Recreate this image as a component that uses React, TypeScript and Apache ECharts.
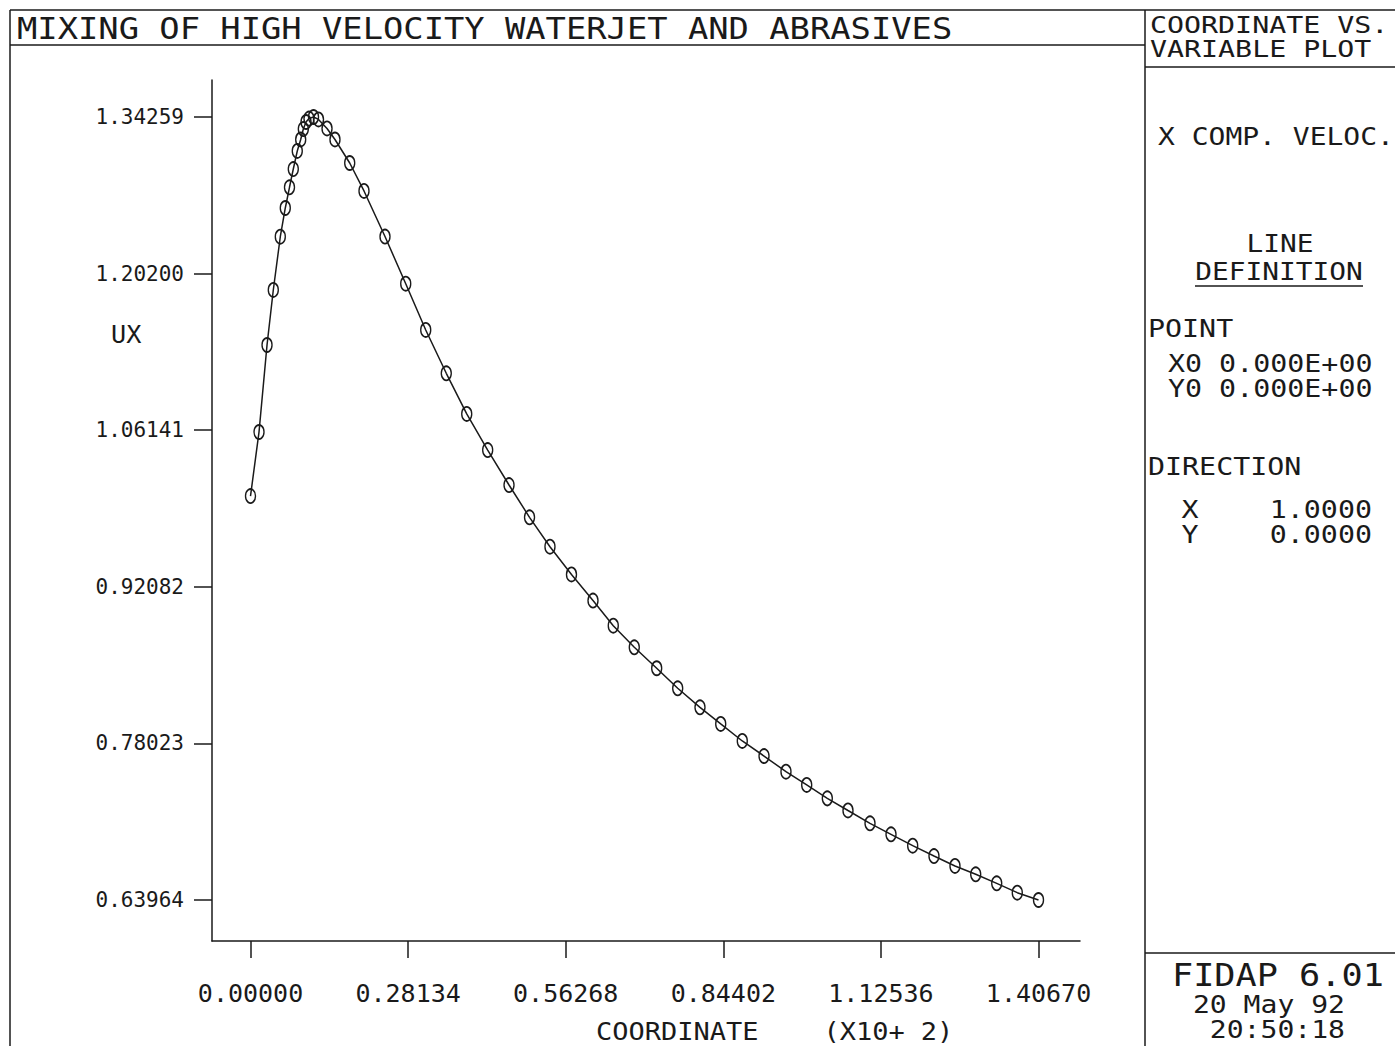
import React, { useEffect, useRef } from "react";
import * as echarts from "echarts";

// Coordinate values (x10^2) along the line
const xCoord = [
  0.0, 0.0152, 0.0295, 0.0407, 0.0532, 0.0621, 0.0696, 0.0764, 0.0835, 0.0896,
  0.0943, 0.0991, 0.1044, 0.1125, 0.1214, 0.1366, 0.1508, 0.1771, 0.2026, 0.2401,
  0.2771, 0.3128, 0.3495, 0.386, 0.4234, 0.4615, 0.4981, 0.5346, 0.573, 0.6114,
  0.6476, 0.6851, 0.7251, 0.7626, 0.8024, 0.8394, 0.8779, 0.9167, 0.9559, 0.9929,
  1.0297, 1.0666, 1.1059, 1.1434, 1.1821, 1.2201, 1.2576, 1.2946, 1.3321, 1.3688,
  1.4067,
];

// X component of velocity (UX)
const uxValues = [
  1.0023, 1.0598, 1.1379, 1.1873, 1.2351, 1.2609, 1.2795, 1.2959, 1.3121, 1.3224,
  1.3318, 1.3381, 1.3412, 1.34259, 1.3404, 1.3323, 1.3224, 1.3013, 1.2762, 1.2353,
  1.1929, 1.1514, 1.1125, 1.076, 1.0436, 1.0122, 0.9832, 0.9568, 0.9319, 0.9085,
  0.8859, 0.8665, 0.8477, 0.8297, 0.8126, 0.7977, 0.7824, 0.7689, 0.7548, 0.7429,
  0.7309, 0.72, 0.7085, 0.6986, 0.6884, 0.6791, 0.6702, 0.6627, 0.6546, 0.6462,
  0.63964,
];

const xTicks = [0.0, 0.28134, 0.56268, 0.84402, 1.12536, 1.4067];
const yTicks = [0.63964, 0.78023, 0.92082, 1.06141, 1.202, 1.34259];

const titleText = "MIXING OF HIGH VELOCITY WATERJET AND ABRASIVES";
const xAxisTitle = "COORDINATE    (X10+ 2)";
const yAxisTitle = "UX";

const FONT = "'DejaVu Sans Mono', 'Liberation Mono', monospace";
const INK = "#1a1a1a";

function txt(
  text: string,
  x: number,
  y: number,
  size: number,
  sx = 1,
  align = "left"
) {
  return {
    type: "text",
    silent: true,
    x,
    y,
    scaleX: sx,
    style: {
      text,
      x: 0,
      y: 0,
      fontSize: size,
      fontFamily: FONT,
      fill: INK,
      textAlign: align,
      textVerticalAlign: "middle",
    },
  };
}

function ln(x1: number, y1: number, x2: number, y2: number, w = 1.5) {
  return {
    type: "line",
    silent: true,
    shape: { x1, y1, x2, y2 },
    style: { stroke: INK, lineWidth: w },
  };
}

export default function App() {
  const ref = useRef<HTMLDivElement>(null);

  useEffect(() => {
    if (!ref.current) return;
    const chart = echarts.init(ref.current, undefined, { renderer: "svg" });
    const data = xCoord.map((x, i) => [x, uxValues[i]]);

    chart.setOption({
      animation: false,
      backgroundColor: "#ffffff",
      grid: { left: 212, right: 315, top: 80, bottom: 105, containLabel: false },
      xAxis: {
        type: "value",
        min: -0.06873,
        max: 1.48077,
        axisLine: { show: true, onZero: false, lineStyle: { color: INK, width: 1.5 } },
        axisTick: {
          show: true,
          inside: false,
          length: 17,
          customValues: xTicks,
          lineStyle: { color: INK, width: 1.5 },
        },
        axisLabel: {
          show: true,
          customValues: xTicks,
          margin: 40,
          fontSize: 25,
          fontFamily: FONT,
          color: INK,
          formatter: (v: number) => v.toFixed(5),
        },
        splitLine: { show: false },
      },
      yAxis: {
        type: "value",
        min: 0.60283,
        max: 1.37581,
        axisLine: { show: true, onZero: false, lineStyle: { color: INK, width: 1.5 } },
        axisTick: {
          show: true,
          inside: false,
          length: 18,
          customValues: yTicks,
          lineStyle: { color: INK, width: 1.5 },
        },
        axisLabel: {
          show: true,
          customValues: yTicks,
          margin: 28,
          fontSize: 21,
          fontFamily: FONT,
          color: INK,
          formatter: (v: number) => v.toFixed(5),
        },
        splitLine: { show: false },
      },
      series: [
        {
          type: "line",
          data,
          smooth: false,
          showAllSymbol: true,
          symbol: "circle",
          symbolSize: [10, 14],
          clip: false,
          lineStyle: { color: INK, width: 1.5 },
          itemStyle: { color: "rgba(255,255,255,0)", borderColor: INK, borderWidth: 1.6 },
          emphasis: { disabled: true },
        },
      ],
      graphic: [
        // frame
        ln(10, 10, 1395, 10),
        ln(10, 10, 10, 1046),
        ln(10, 45, 1145, 45),
        ln(1145, 10, 1145, 1046),
        ln(1145, 67, 1395, 67),
        ln(1145, 953, 1395, 953),
        ln(1195, 286, 1363, 286, 1.3),
        // title
        txt(titleText, 17, 28, 31, 1.09),
        // axis titles
        txt(yAxisTitle, 111, 335, 24, 1.05),
        txt(xAxisTitle, 596, 1031, 25, 1.08),
        // right panel
        txt("COORDINATE VS.", 1150, 25, 23, 1.23),
        txt("VARIABLE PLOT", 1150, 49, 23, 1.23),
        txt("X COMP. VELOC.", 1158, 136, 25, 1.12),
        txt("LINE", 1280, 244, 24, 1.16, "center"),
        txt("DEFINITION", 1279, 272, 24, 1.16, "center"),
        txt("POINT", 1148, 329, 24, 1.18),
        txt("X0 0.000E+00", 1168, 364, 24, 1.18),
        txt("Y0 0.000E+00", 1168, 389, 24, 1.18),
        txt("DIRECTION", 1148, 467, 24, 1.18),
        txt("X", 1190, 510, 24, 1.18, "center"),
        txt("1.0000", 1372, 510, 24, 1.18, "right"),
        txt("Y", 1190, 535, 24, 1.18, "center"),
        txt("0.0000", 1372, 535, 24, 1.18, "right"),
        txt("FIDAP 6.01", 1172, 975, 32, 1.1),
        txt("20 May 92", 1345, 1005, 24, 1.17, "right"),
        txt("20:50:18", 1345, 1030, 24, 1.17, "right"),
      ],
    });

    return () => chart.dispose();
  }, []);

  return (
    <div
      ref={ref}
      style={{ position: "absolute", left: 0, top: 0, width: 1395, height: 1046 }}
    />
  );
}
